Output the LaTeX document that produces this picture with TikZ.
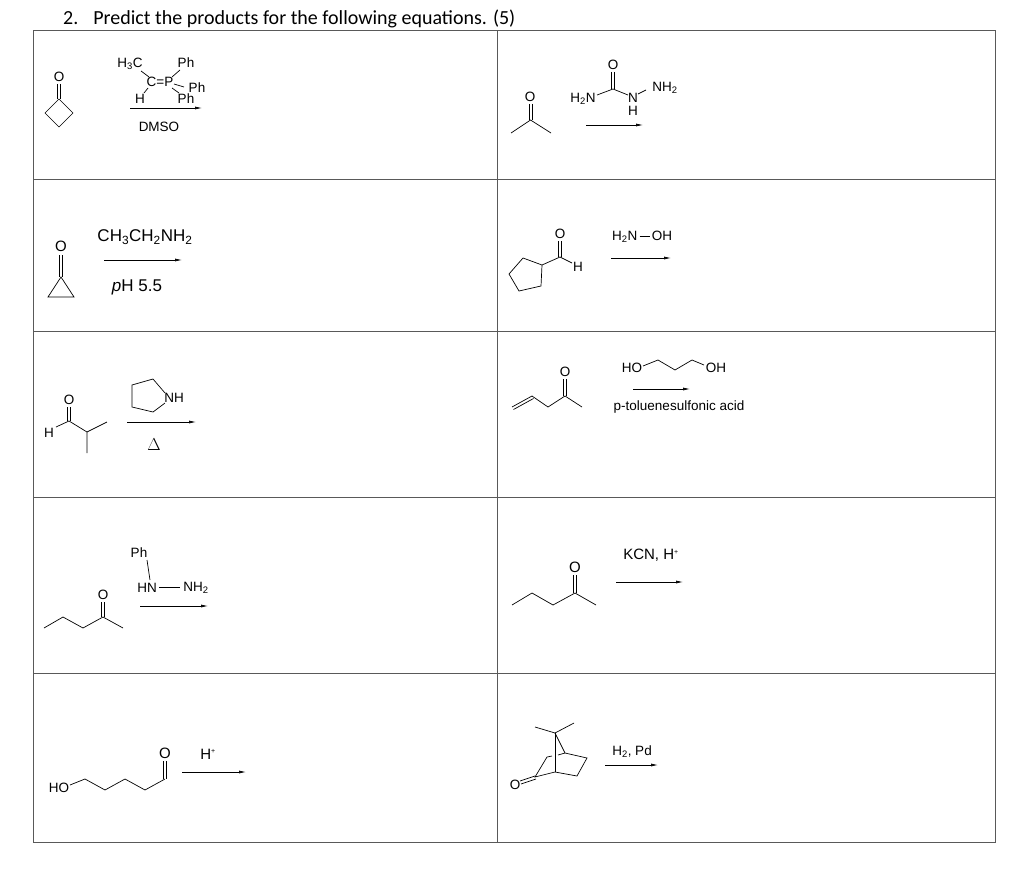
\documentclass[tikz,border=0pt]{standalone}
\usepackage{fontspec}
\setmainfont{Liberation Sans}
\newfontfamily\titlefont{Carlito}
\usetikzlibrary{arrows.meta}
\newcommand{\sbs}[1]{\textsubscript{#1}}
\newcommand{\hplus}{H\textsuperscript{\scriptsize +}}
\begin{document}
\begin{tikzpicture}[x=1pt,y=-1pt,
  bond/.style={line width=0.7pt},
  grid/.style={line width=1pt,draw=black!65},
  rxn/.style={line width=0.7pt,-{Latex[length=7pt,width=3pt]}},
  lab/.style={inner sep=0pt,font=\fontsize{13.5}{14}\selectfont},
  big/.style={inner sep=0pt,font=\fontsize{17}{18}\selectfont}]
\useasboundingbox (0,0) rectangle (1024,888);
\fill[white] (0,0) rectangle (1024,888);
% title
\node[anchor=west,inner sep=0pt,font=\titlefont\fontsize{20}{21}\selectfont] (title) at (63,19) {2.\hspace{15pt}Predict the products for the following equations. (5)};
% table
\draw[grid] (33,31) rectangle (995,842);
\draw[grid] (497,31) -- (497,842);
\foreach \yy in {179,331,497,673} \draw[grid] (33,\yy) -- (995,\yy);

% ---- cell 1: cyclobutanone + ylide
\node[lab] (o1) at (59,77) {O};
\draw[bond] (57.5,84) -- (57.5,99) (60.5,84) -- (60.5,99);
\draw[bond] (59,99) -- (45,113) -- (59,127) -- (73,113) -- cycle;
\node[lab] (h3c) at (130,64) {H\sbs{3}C};
\node[lab] (ph1) at (186,63) {Ph};
\node[lab] (cp) at (160,82) {C=P};
\node[lab] (ph2) at (197,88) {Ph};
\node[lab] (ph3) at (186,99) {Ph};
\node[lab] (h1) at (140,99) {H};
\draw[bond] (141,71) -- (149,77);
\draw[bond] (148,88) -- (144,93);
\draw[bond] (172,77) -- (180,70);
\draw[bond] (174,84) -- (184,87);
\draw[bond] (172,88) -- (179,93);
\coordinate (a1s) at (130,108); \coordinate (a1e) at (202,108);
\draw[rxn] (a1s) -- (a1e);
\node[lab] (dmso) at (159,127) {DMSO};

% ---- cell 2: acetone + semicarbazide
\node[lab] (o2) at (530,97) {O};
\draw[bond] (529,104) -- (529,120) (532,104) -- (532,120);
\draw[bond] (511,133) -- (530.5,120) -- (551,133);
\node[lab] (h2n2) at (583,99) {H\sbs{2}N};
\node[lab] (o2b) at (613,65) {O};
\draw[bond] (611.5,72) -- (611.5,89) (614.5,72) -- (614.5,89);
\draw[bond] (597,95) -- (613,89) -- (628,95);
\node[lab] (n2) at (633,98) {N};
\node[lab] (h2) at (633,111) {H};
\draw[bond] (638,94) -- (646,90);
\node[lab] (nh2b) at (665,88) {NH\sbs{2}};
\coordinate (a2s) at (586,125); \coordinate (a2e) at (643,125);
\draw[rxn] (a2s) -- (a2e);

% ---- cell 3: cyclopropanone
\node[lab,font=\fontsize{15}{16}\selectfont] (o3) at (61,246) {O};
\draw[bond] (59.5,255) -- (59.5,277) (62.5,255) -- (62.5,277);
\draw[bond] (61,277) -- (48,297) -- (74,297) -- cycle;
\node[big] (ce) at (145,237) {CH\sbs{3}CH\sbs{2}NH\sbs{2}};
\coordinate (a3s) at (104,260); \coordinate (a3e) at (182,260);
\draw[rxn] (a3s) -- (a3e);
\node[big] (ph55) at (137,287) {\textit{p}H 5.5};

% ---- cell 4: cyclopentanecarbaldehyde
\node[lab] (o4) at (560,234) {O};
\draw[bond] (558.5,241) -- (558.5,257) (561.5,241) -- (561.5,257);
\draw[bond] (542,265) -- (560,257) -- (572,263);
\node[lab] (h4) at (578,267) {H};
\draw[bond] (542,265) -- (523,258) -- (509,274) -- (519,291) -- (541,286) -- cycle;
\node[lab] (hn4) at (642,237) {H\sbs{2}N\,\rule[4pt]{10pt}{0.6pt}\,OH};
\coordinate (a4s) at (611,258); \coordinate (a4e) at (671,258);
\draw[rxn] (a4s) -- (a4e);

% ---- cell 5: isobutyraldehyde + pyrrolidine
\node[lab] (o5) at (69,400) {O};
\draw[bond] (67.5,407) -- (67.5,421) (70.5,407) -- (70.5,421);
\draw[bond] (56,427) -- (69,421) -- (87,432) -- (107,422) (87,432) -- (87,453);
\node[lab] (h5) at (49,433) {H};
\draw[bond] (165,393) -- (153,379) -- (132,385) -- (132,407) -- (153,412) -- (165,403);
\node[lab] (nh5) at (174,398) {NH};
\coordinate (a5s) at (127,422); \coordinate (a5e) at (196,422);
\draw[rxn] (a5s) -- (a5e);
\node[inner sep=0pt,font=\fontsize{17}{18}\selectfont] (delta) at (154,445) {$\Delta$};

% ---- cell 6: 2-pentanone + phenylhydrazine
\node[lab] (o6) at (103,595) {O};
\draw[bond] (101.5,602) -- (101.5,617) (104.5,602) -- (104.5,617);
\draw[bond] (44,628) -- (63,617) -- (83,628) -- (103,617) -- (123,628);
\node[lab] (ph6) at (139,553) {Ph};
\draw[bond] (147,560) -- (150,580);
\node[lab] (hn6) at (147,588) {HN};
\draw[bond] (159,587) -- (180,587);
\node[lab] (nh6) at (196,588) {NH\sbs{2}};
\coordinate (a6s) at (140,606); \coordinate (a6e) at (208,606);
\draw[rxn] (a6s) -- (a6e);

% ---- cell 7: 5-hydroxypentanal
\node[lab] (ho7) at (59,788) {HO};
\draw[bond] (70,785) -- (85,779) -- (105,790) -- (125,779) -- (145,790) -- (165,779);
\node[lab,font=\fontsize{15}{16}\selectfont] (o7) at (165,753) {O};
\draw[bond] (163.5,761) -- (163.5,779) (166.5,761) -- (166.5,779);
\node[lab,font=\fontsize{15}{16}\selectfont] (hp7) at (208,754) {\hplus};
\coordinate (a7s) at (182,772); \coordinate (a7e) at (246,772);
\draw[rxn] (a7s) -- (a7e);

% ---- cell 8: 4-penten-2-one + 1,3-propanediol
\draw[bond] (512,407) -- (532,396) (513.5,409.5) -- (533.5,398.5);
\draw[bond] (532,396) -- (548,407) -- (565,396) -- (582,407);
\node[lab] (o8) at (565,372) {O};
\draw[bond] (563.5,379) -- (563.5,396) (566.5,379) -- (566.5,396);
\node[lab] (ho8) at (632,368) {HO};
\draw[bond] (643,366) -- (658,360) -- (675,370) -- (692,360) -- (704,365);
\node[lab] (oh8) at (716,368) {OH};
\coordinate (a8s) at (633,389); \coordinate (a8e) at (690,389);
\draw[rxn] (a8s) -- (a8e);
\node[lab] (ptsa) at (679,407) {p-toluenesulfonic acid};

% ---- cell 9: 2-pentanone + KCN
\draw[bond] (512,605) -- (532,593) -- (553,605) -- (575,593) -- (596,605);
\node[lab,font=\fontsize{15}{16}\selectfont] (o9) at (575,567) {O};
\draw[bond] (573.5,575) -- (573.5,593) (576.5,575) -- (576.5,593);
\node[lab,font=\fontsize{15}{16}\selectfont] (kcn) at (651,555) {KCN, \hplus};
\coordinate (a9s) at (616,582); \coordinate (a9e) at (683,582);
\draw[rxn] (a9s) -- (a9e);

% ---- cell 10: camphor
\draw[bond] (535,727) -- (555,733) -- (574,723);
\draw[bond] (555,733) -- (555,772);
\draw[bond] (555,733) -- (565,753) -- (587,758) -- (577,776) -- (555,772);
\draw[bond] (555,772) -- (535,777) -- (547,757) -- (552,756);
\draw[bond] (558,755) -- (565,753);
\node[lab] (o10) at (515,785) {O};
\draw[bond] (520,781) -- (535,776) (521,784) -- (536,779);
\node[lab] (h2pd) at (632,752) {H\sbs{2}, Pd};
\coordinate (a10s) at (605,765); \coordinate (a10e) at (658,765);
\draw[rxn] (a10s) -- (a10e);
\end{tikzpicture}
\end{document}
